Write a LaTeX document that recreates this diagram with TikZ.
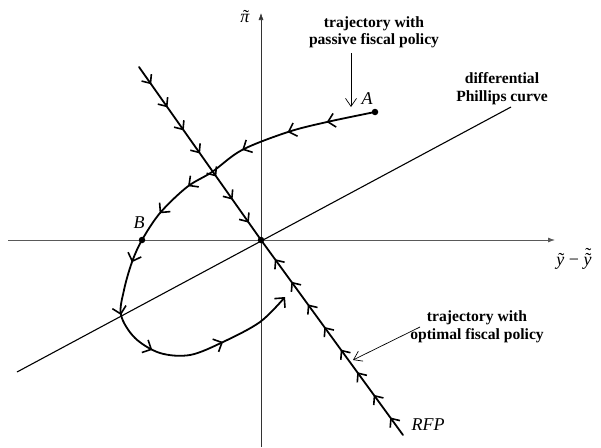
\documentclass[tikz,border=0pt]{standalone}
\usepackage{fontspec}
\setmainfont{Liberation Serif}
\usetikzlibrary{arrows.meta,decorations.markings}
\newcommand\tildeon[2]{{\ooalign{#2\cr\hidewidth\kern#1{\upshape\char"02DC}\hidewidth\cr}}}
\newcommand\dtildeon[2]{{\ooalign{#2\cr\hidewidth\kern#1{\upshape\char"02DC}\hidewidth\cr\hidewidth\kern#1\raisebox{.24em}{\upshape\char"02DC}\hidewidth\cr}}}
\begin{document}
\begin{tikzpicture}[x=1pt,y=-1pt,
  axisline/.style={line width=0.8pt, draw=black!65, -{Latex[length=7pt,width=5pt]}},
  phil/.style={line width=1.1pt},
  traj/.style={line width=1.8pt, line cap=round},
  pointer/.style={line width=0.7pt, -{Straight Barb[length=8pt,width=11pt,line width=0.7pt]}},
  dot/.style={circle, fill=black, inner sep=0pt, minimum size=6.5pt},
  lbl/.style={font=\bfseries\fontsize{15.6}{17.5}\selectfont, align=center, inner sep=0pt},
  mlbl/.style={font=\itshape\fontsize{18}{20}\selectfont, inner sep=0pt},
  marks/.style={postaction={decorate}, decoration={markings, #1}}
]
\useasboundingbox (0,0) rectangle (601,447);
% axes
\coordinate (xl) at (8,240);
\coordinate (xr) at (555,240);
\coordinate (yb) at (261,447);
\coordinate (yt) at (261,13);
\draw[axisline] (xl) -- (xr);
\draw[axisline, draw=black!80, line width=0.6pt] (yb) -- (yt);
% Phillips curve
\coordinate (pl) at (17,372);
\coordinate (pu) at (511,107);
\draw[phil] (pl) -- (pu);
% origin
\node[dot] (O) at (261,240) {};
% RFP line
\coordinate (rt) at (139,67);
\coordinate (rb) at (403,435);
\draw[traj, marks={mark=between positions 0.1 and 0.91 step 0.1333 with {\arrow{Straight Barb[length=7pt,width=12pt,line width=1.6pt]}}}] (rt) -- (O.center);
\draw[traj, marks={mark=between positions 0.09 and 0.91 step 0.116 with {\arrow{Straight Barb[length=7pt,width=12pt,line width=1.6pt]}}}] (rb) -- (O.center);
% passive trajectory
\node[dot] (A) at (375,112) {};
\node[dot] (B) at (142,240) {};
\draw[traj, -{Straight Barb[length=7pt,width=14pt,line width=1.6pt]},
  marks={mark=at position 0.089 with {\arrow{Straight Barb[length=7pt,width=14pt,line width=1.6pt]}},
         mark=at position 0.162 with {\arrow{Straight Barb[length=7pt,width=14pt,line width=1.6pt]}},
         mark=at position 0.25 with {\arrow{Straight Barb[length=7pt,width=14pt,line width=1.6pt]}},
         mark=at position 0.368 with {\arrow{Straight Barb[length=7pt,width=14pt,line width=1.6pt]}},
         mark=at position 0.439 with {\arrow{Straight Barb[length=7pt,width=14pt,line width=1.6pt]}},
         mark=at position 0.541 with {\arrow{Straight Barb[length=7pt,width=14pt,line width=1.6pt]}},
         mark=at position 0.639 with {\arrow{Straight Barb[length=7pt,width=14pt,line width=1.6pt]}},
         mark=at position 0.726 with {\arrow{Straight Barb[length=7pt,width=14pt,line width=1.6pt]}},
         mark=at position 0.86 with {\arrow{Straight Barb[length=7pt,width=14pt,line width=1.6pt]}}}]
  plot[smooth, tension=0.55] coordinates {(A.center) (327,122) (288,132) (242,150) (212,172) (187,187) (160,213) (B.center) (132,262) (124,290) (121,315) (135,338) (160,353) (190,355) (223,342) (260,322) (285,297)};
% labels
\node[mlbl] (pi) at (245,18) {\tildeon{.12em}{π}};
\node[mlbl] (yy) at (574,261) {\tildeon{.1em}{y}\kern.25em{\upshape −}\kern.25em\dtildeon{.1em}{y}};
\node[mlbl] (Alab) at (367,99) {A};
\node[mlbl] (Blab) at (139,223) {B};
\node[mlbl] (rfp) at (428,425) {RFP};
\node[lbl] (pass) at (374,32.5) {trajectory with\\passive fiscal policy};
\node[lbl] (phl) at (502,88.5) {differential\\Phillips curve};
\node[lbl] (opt) at (477,327) {trajectory with\\optimal fiscal policy};
% pointers
\coordinate (p1s) at (351,53);
\coordinate (p1e) at (351,107);
\draw[pointer] (p1s) -- (p1e);
\coordinate (p2s) at (420,327);
\coordinate (p2e) at (353,360);
\draw[pointer] (p2s) -- (p2e);
\end{tikzpicture}
\end{document}
